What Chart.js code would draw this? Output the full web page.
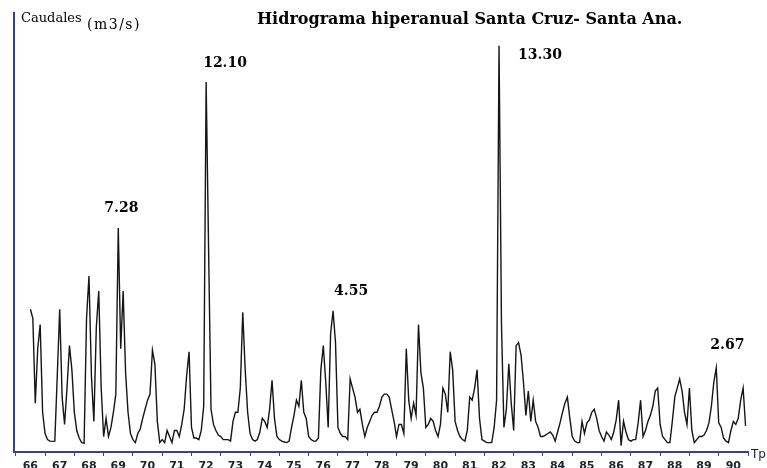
<!DOCTYPE html>
<html>
<head>
<meta charset="utf-8">
<script src="https://cdn.jsdelivr.net/npm/chart.js@4.4.1/dist/chart.umd.min.js"></script>
<style>
  html, body { margin: 0; padding: 0; background: #ffffff; overflow: hidden; }
  #wrap { width: 767px; height: 468px; }
</style>
</head>
<body>
<div id="wrap"><canvas id="c" width="767" height="468"></canvas></div>
<script>
// ---- data (monthly flows, m3/s) ----
const startYear = 66;      // 1966
const startMonth = 6;      // first month index (0 = Jan)
const caudales = [
  4.6, 4.3, 1.5, 3.3, 4.1, 1.2,
  0.5, 0.3, 0.25, 0.24, 0.25, 2.4, 4.6, 1.7, 0.8, 2.0, 3.4, 2.6,
  1.2, 0.6, 0.35, 0.2, 0.18, 4.3, 5.7, 2.4, 0.9, 4.0, 5.2, 2.0,
  0.4, 1.0, 0.4, 0.7, 1.2, 1.8, 7.28, 3.3, 5.2, 2.5, 1.2, 0.5,
  0.3, 0.2, 0.5, 0.65, 1.0, 1.3, 1.6, 1.8, 3.25, 2.8, 0.9, 0.2,
  0.3, 0.2, 0.6, 0.4, 0.2, 0.6, 0.6, 0.4, 0.8, 1.3, 2.4, 3.2,
  0.7, 0.35, 0.35, 0.3, 0.6, 1.4, 12.1, 6.6, 1.3, 0.8, 0.6, 0.45,
  0.4, 0.3, 0.3, 0.3, 0.25, 0.9, 1.2, 1.2, 2.0, 4.5, 2.6, 1.2,
  0.5, 0.3, 0.25, 0.3, 0.55, 1.0, 0.9, 0.7, 1.3, 2.26, 1.0, 0.4,
  0.3, 0.25, 0.22, 0.2, 0.25, 0.7, 1.1, 1.6, 1.4, 2.26, 1.2, 1.0,
  0.4, 0.3, 0.25, 0.25, 0.35, 2.6, 3.4, 2.2, 0.7, 3.8, 4.55, 3.5,
  0.7, 0.5, 0.4, 0.4, 0.3, 2.3, 2.0, 1.7, 1.2, 1.3, 0.8, 0.4,
  0.7, 0.9, 1.1, 1.2, 1.2, 1.4, 1.7, 1.8, 1.8, 1.7, 1.3, 0.9,
  0.4, 0.8, 0.8, 0.5, 3.3, 1.6, 1.0, 1.5, 1.1, 4.1, 2.5, 2.0,
  0.7, 0.8, 1.0, 0.9, 0.6, 0.4, 0.8, 2.0, 1.8, 1.2, 3.2, 2.6,
  0.9, 0.6, 0.4, 0.3, 0.25, 0.6, 1.7, 1.6, 2.0, 2.6, 1.0, 0.3,
  0.25, 0.2, 0.2, 0.2, 0.7, 1.6, 13.3, 4.1, 0.7, 1.3, 2.8, 1.5,
  0.6, 3.4, 3.5, 3.1, 2.2, 1.1, 1.9, 0.9, 1.6, 0.9, 0.7, 0.4,
  0.4, 0.45, 0.5, 0.55, 0.45, 0.25, 0.55, 0.85, 1.2, 1.5, 1.7, 1.0,
  0.4, 0.25, 0.2, 0.2, 0.9, 0.5, 0.85, 0.95, 1.2, 1.3, 1.0, 0.6,
  0.4, 0.25, 0.55, 0.45, 0.3, 0.55, 0.95, 1.6, 0.1, 0.9, 0.55, 0.3,
  0.25, 0.3, 0.3, 0.85, 1.6, 0.4, 0.6, 0.9, 1.1, 1.4, 1.9, 2.0,
  0.8, 0.4, 0.3, 0.2, 0.2, 0.9, 1.7, 2.0, 2.3, 1.9, 1.2, 0.8,
  2.0, 0.6, 0.2, 0.3, 0.4, 0.4, 0.45, 0.6, 0.85, 1.4, 2.2, 2.67,
  0.85, 0.7, 0.35, 0.25, 0.2, 0.6, 0.9, 0.8, 1.0, 1.6, 2.0, 0.75
];
const yearTicks = [66,67,68,69,70,71,72,73,74,75,76,77,78,79,80,81,82,83,84,85,86,87,88,89,90,91];
const yearLabels = ['66','67','68','69','70','71','72','73','74','75','76','77','78','79','80','81','82','83','84','85','86','87','88','89','90',''];
const peakValues = [7.28, 12.10, 4.55, 13.30, 2.67];
const peakLabels = ['7.28', '12.10', '4.55', '13.30', '2.67'];

const points = caudales.map((v, i) => ({ x: startYear + (startMonth + i) / 12, y: v }));

// find the data index of each annotated peak
const peakIdx = peakValues.map(pv => caudales.findIndex(v => Math.abs(v - pv) < 1e-9));

const AXIS = '#34409f';

const textPlugin = {
  id: 'texts',
  afterDraw(chart) {
    const ctx = chart.ctx;
    const xs = chart.scales.x, ys = chart.scales.y;
    ctx.save();
    ctx.fillStyle = '#000';
    ctx.textBaseline = 'alphabetic';
    ctx.textAlign = 'left';
    // axis titles
    ctx.font = '13px "DejaVu Serif"';
    ctx.fillText('Caudales', 21, 22);
    ctx.font = '14px "DejaVu Serif"';
    try { ctx.letterSpacing = '1.5px'; } catch (e) {}
    ctx.fillText('(m3/s)', 87, 29);
    try { ctx.letterSpacing = '0px'; } catch (e) {}
    ctx.font = 'bold 16px "DejaVu Serif"';
    ctx.fillText('Hidrograma hiperanual Santa Cruz- Santa Ana.', 257, 24);
    ctx.font = '12px "DejaVu Sans"';
    ctx.fillStyle = '#1a2030';
    ctx.fillText('Tp', 751, 458);
    // peak labels
    ctx.fillStyle = '#000';
    ctx.font = 'bold 14px "DejaVu Serif"';
    ctx.textBaseline = 'middle';
    const offs = [[-14, -20], [-3, -19], [1, -19], [19, 10], [-6, -22]];
    peakIdx.forEach((idx, j) => {
      if (idx < 0) return;
      const p = points[idx];
      const px = xs.getPixelForValue(p.x);
      const py = ys.getPixelForValue(p.y);
      ctx.fillText(peakLabels[j], px + offs[j][0], py + offs[j][1]);
    });
    ctx.restore();
  }
};

new Chart(document.getElementById('c'), {
  type: 'line',
  data: {
    datasets: [{
      data: points,
      borderColor: '#151515',
      borderWidth: 1.4,
      pointRadius: 0,
      tension: 0,
      fill: false
    }]
  },
  options: {
    responsive: false,
    animation: false,
    devicePixelRatio: 1,
    layout: { padding: { top: 13, left: 0, right: 19, bottom: 0 } },
    plugins: { legend: { display: false }, tooltip: { enabled: false }, title: { display: false } },
    scales: {
      x: {
        type: 'linear',
        min: 65.94,
        max: 91,
        afterBuildTicks: s => { s.ticks = yearTicks.map(v => ({ value: v })); },
        afterFit: s => { s.height = 16; },
        ticks: {
          autoSkip: false,
          maxRotation: 0,
          minRotation: 0,
          labelOffset: 14.6,
          padding: 4,
          color: '#1b2426',
          font: { family: 'DejaVu Sans', size: 11, weight: 'bold' },
          callback: (v) => { const i = yearTicks.indexOf(v); return i >= 0 ? yearLabels[i] : ''; }
        },
        grid: { display: true, drawOnChartArea: false, drawTicks: true, tickLength: 4, color: AXIS, lineWidth: 1 },
        border: { display: true, color: AXIS, width: 2 }
      },
      y: {
        min: -0.11,
        max: 14.38,
        afterFit: s => { s.width = 14; },
        ticks: { display: false },
        grid: { display: false, drawTicks: false },
        border: { display: true, color: AXIS, width: 2 }
      }
    }
  },
  plugins: [textPlugin]
});
</script>
</body>
</html>
